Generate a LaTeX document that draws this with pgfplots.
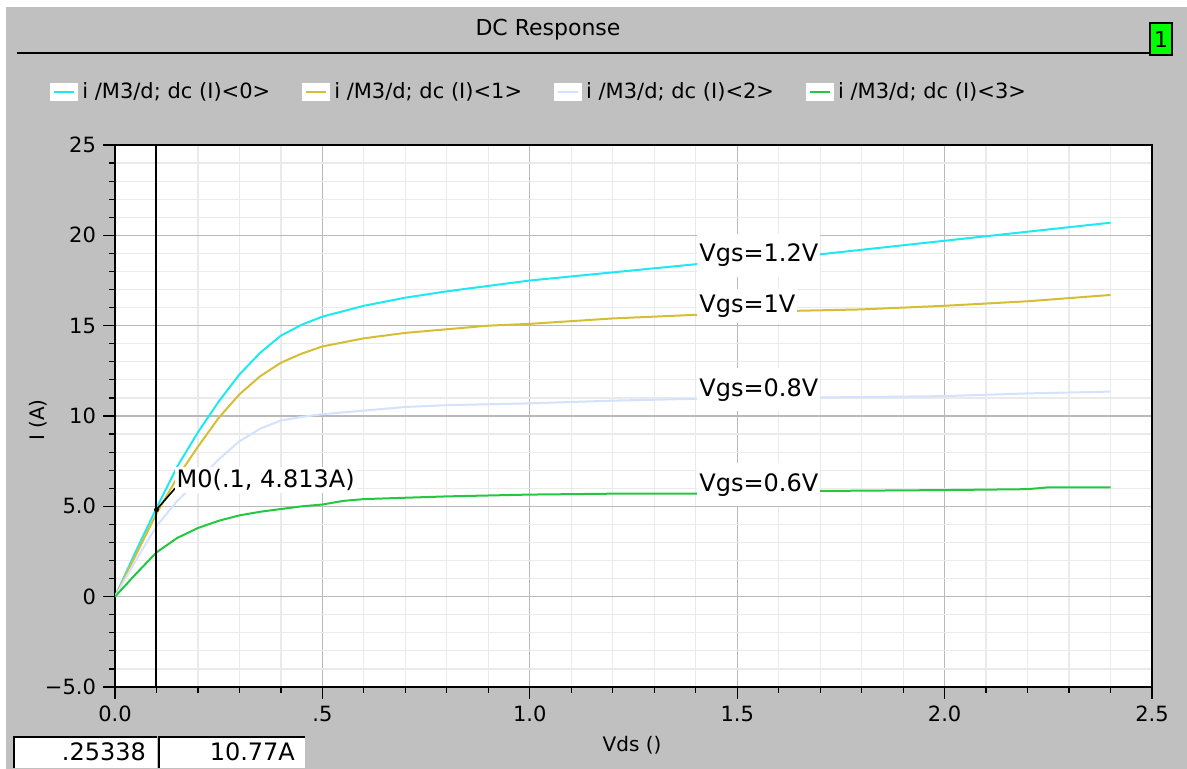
\documentclass[border=0pt]{standalone}
\usepackage{fontspec}
\setmainfont{DejaVu Sans}
\usepackage{pgfplots}
\pgfplotsset{compat=1.18}
\definecolor{panel}{RGB}{192,192,192}
\definecolor{ccyan}{RGB}{30,232,242}
\definecolor{cyell}{RGB}{214,190,52}
\definecolor{cblue}{RGB}{212,226,255}
\definecolor{cgreen}{RGB}{36,200,64}
\definecolor{gmaj}{RGB}{185,185,185}
\definecolor{gmin}{RGB}{234,234,234}
\begin{document}
\begin{tikzpicture}
% page frame (1 px of the reference = 0.5pt)
\useasboundingbox (-57.5pt,-41pt) rectangle (536pt,343.5pt);
\fill[white] (-57.5pt,-41pt) rectangle (536pt,343.5pt);
\fill[panel] (-54.5pt,-41pt) rectangle (536pt,340pt);
\node[font=\fontsize{11}{13}\selectfont] at (216.5pt,328.5pt) {DC Response};
\draw[line width=0.8pt] (-49pt,317pt) -- (517.5pt,317pt);
\draw[fill=green,line width=0.6pt] (517.5pt,316pt) rectangle (528.5pt,332pt);
\node[font=\fontsize{11}{13}\selectfont] at (523pt,324pt) {1};

\begin{axis}[
  at={(0pt,0pt)}, anchor=south west,
  scale only axis, width=518.5pt, height=271pt,
  xmin=0, xmax=2.5, ymin=-5, ymax=25,
  xtick={0,0.5,1,1.5,2,2.5},
  xticklabels={0.0,.5,1.0,1.5,2.0,2.5},
  ytick={-5,0,5,10,15,20,25},
  yticklabels={−5.0,0,5.0,10,15,20,25},
  minor x tick num=4, minor y tick num=4,
  grid=both,
  major grid style={draw=gmaj, line width=0.6pt},
  minor grid style={draw=gmin, line width=0.6pt},
  tick align=outside, tick pos=left,
  major tick length=6pt, minor tick length=3pt,
  tick style={black, line width=0.6pt},
  axis line style={black, line width=0.8pt},
  axis background/.style={fill=white},
  ticklabel style={font=\fontsize{10.5}{12}\selectfont},
  xlabel={Vds ()}, ylabel={I (A)},
  label style={font=\fontsize{11}{13}\selectfont},
  every axis x label/.style={at={(axis description cs:0.4986,-0.107)}, anchor=center},
  every axis y label/.style={at={(axis description cs:-0.0743,0.4926)}, rotate=90, anchor=center},
  legend columns=4,
  legend style={at={(axis description cs:-0.0685,1.0978)}, anchor=west,
    draw=none, fill=none, font=\fontsize{10.5}{12}\selectfont,
    /tikz/every even column/.append style={column sep=14pt}},
  legend image code/.code={
    \fill[white] (0pt,-4pt) rectangle (13pt,4pt);
    \draw[#1,line width=1pt] (1.5pt,0pt) -- (11.5pt,0pt);},
]
% Vgs = 1.2 V
\addplot[ccyan, line width=1pt] coordinates {
  (0,0) (0.05,2.5) (0.1,4.9) (0.15,7.2) (0.2,9.1) (0.25,10.8) (0.3,12.3)
  (0.35,13.5) (0.4,14.45) (0.45,15.05) (0.5,15.5) (0.6,16.1) (0.7,16.55)
  (0.8,16.9) (0.9,17.2) (1.0,17.5) (1.2,17.95) (1.4,18.4) (1.6,18.7)
  (1.8,19.2) (2.0,19.7) (2.2,20.2) (2.4,20.7)
};
\addlegendentry{i /M3/d; dc (I)<0>}
% Vgs = 1 V
\addplot[cyell, line width=1pt] coordinates {
  (0,0) (0.05,2.3) (0.1,4.6) (0.15,6.6) (0.2,8.3) (0.25,9.9) (0.3,11.2)
  (0.35,12.2) (0.4,12.95) (0.45,13.45) (0.5,13.85) (0.6,14.3) (0.7,14.6)
  (0.8,14.8) (0.9,15.0) (1.0,15.1) (1.2,15.4) (1.4,15.6) (1.6,15.8)
  (1.8,15.9) (2.0,16.1) (2.2,16.35) (2.4,16.7)
};
\addlegendentry{i /M3/d; dc (I)<1>}
% Vgs = 0.8 V
\addplot[cblue, line width=1pt] coordinates {
  (0,0) (0.05,2.0) (0.1,3.9) (0.15,5.3) (0.2,6.4) (0.25,7.6) (0.3,8.6)
  (0.35,9.3) (0.4,9.75) (0.45,9.95) (0.5,10.1) (0.6,10.3) (0.7,10.5)
  (0.8,10.6) (1.0,10.7) (1.2,10.85) (1.4,10.95) (1.6,11.0) (1.8,11.05)
  (2.0,11.1) (2.2,11.25) (2.4,11.35)
};
\addlegendentry{i /M3/d; dc (I)<2>}
% Vgs = 0.6 V
\addplot[cgreen, line width=1pt] coordinates {
  (0,0) (0.05,1.25) (0.1,2.45) (0.15,3.25) (0.2,3.8) (0.25,4.2) (0.3,4.5)
  (0.35,4.7) (0.4,4.85) (0.45,5.0) (0.5,5.1) (0.55,5.3) (0.6,5.4)
  (0.8,5.55) (1.0,5.65) (1.2,5.7) (1.4,5.7) (1.65,5.72) (1.7,5.85)
  (2.0,5.9) (2.2,5.95) (2.25,6.05) (2.4,6.05)
};
\addlegendentry{i /M3/d; dc (I)<3>}
% marker M0
\addplot[black, line width=1pt, forget plot] coordinates {(0.1,-5) (0.1,25)};
\addplot[black, line width=0.8pt, forget plot] coordinates {(0.1,4.813) (0.145,6.0)};
\addplot[black, only marks, mark=*, mark size=1pt, forget plot] coordinates {(0.1,4.813)};

\node[anchor=west, fill=white, inner sep=1pt, font=\fontsize{12}{14}\selectfont]
  at (axis cs:0.143,6.45) {M0(.1, 4.813A)};
\node[anchor=west, fill=white, inner xsep=1pt, inner ysep=5pt, font=\fontsize{12}{14}\selectfont]
  at (axis cs:1.403,18.9) {Vgs=1.2V};
\node[anchor=west, fill=white, inner xsep=1pt, inner ysep=3pt, font=\fontsize{12}{14}\selectfont]
  at (axis cs:1.403,16.1) {Vgs=1V};
\node[anchor=west, fill=white, inner xsep=1pt, inner ysep=5pt, font=\fontsize{12}{14}\selectfont]
  at (axis cs:1.403,11.45) {Vgs=0.8V};
\node[anchor=west, fill=white, inner xsep=1pt, inner ysep=5pt, font=\fontsize{12}{14}\selectfont]
  at (axis cs:1.403,6.2) {Vgs=0.6V};
\end{axis}

% cursor read-out boxes
\fill[white] (-50.5pt,-40.5pt) rectangle (21pt,-25pt);
\fill[white] (22pt,-40.5pt) rectangle (95pt,-25pt);
\draw[line width=0.8pt] (-50.5pt,-40.5pt) -- (-50.5pt,-25pt) -- (21pt,-25pt);
\draw[line width=0.8pt] (22pt,-40.5pt) -- (22pt,-25pt) -- (95pt,-25pt);
\node[anchor=east, font=\fontsize{12}{14}\selectfont] at (19pt,-32.5pt) {.25338};
\node[anchor=east, font=\fontsize{12}{14}\selectfont] at (93.5pt,-32.5pt) {10.77A};
\end{tikzpicture}
\end{document}
